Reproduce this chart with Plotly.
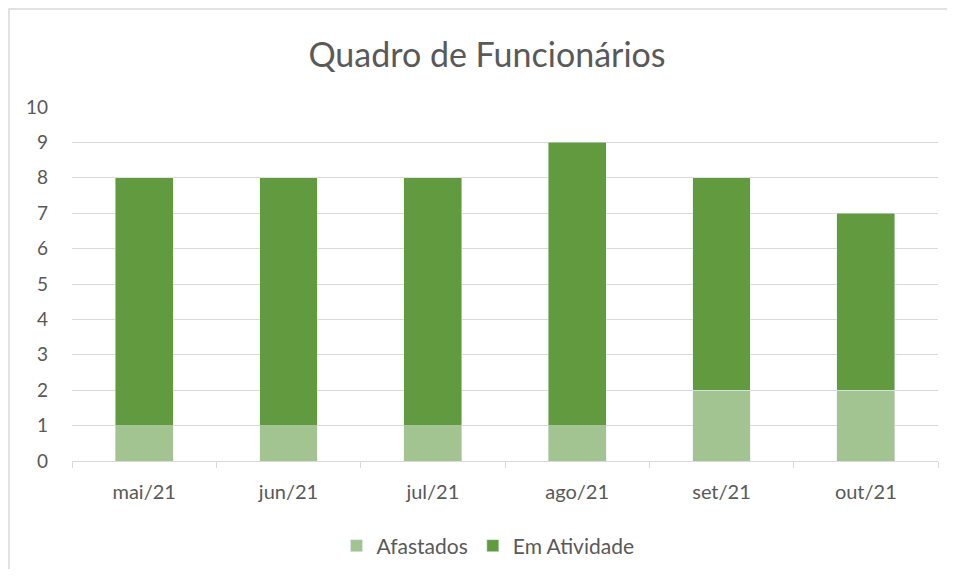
import plotly.graph_objects as go

categories = ["mai/21", "jun/21", "jul/21", "ago/21", "set/21", "out/21"]
afastados = [1, 1, 1, 1, 2, 2]
em_atividade = [7, 7, 7, 8, 6, 5]
y_ticks = [0, 1, 2, 3, 4, 5, 6, 7, 8, 9, 10]

# page body has an 8px margin, so the figure starts at (8, 8)
W, H = 947, 561
L, R, T, B = 64, 17, 99, 108
pw, ph = W - L - R, H - T - B

font_fam = "Lato, 'Open Sans', sans-serif"
txt = "#595959"
grid = "#D9D9D9"

fig = go.Figure()
fig.add_trace(go.Bar(name="Afastados", x=categories, y=afastados, marker_color="#A1C490"))
fig.add_trace(go.Bar(name="Em Atividade", x=categories, y=em_atividade, marker_color="#629A3F"))

fig.update_layout(
    width=W, height=H, autosize=False,
    barmode="stack", bargap=0.6,
    margin=dict(l=L, r=R, t=T, b=B, autoexpand=False),
    paper_bgcolor="white", plot_bgcolor="white",
    font=dict(family=font_fam, size=20, color=txt),
    title=dict(text="Quadro de Funcionários", x=(487 - 8) / W, xanchor="center",
               y=1 - 47 / H, yanchor="middle",
               font=dict(size=34, color=txt, family=font_fam)),
    legend=dict(orientation="h", xref="container", x=(488 - 8) / W, xanchor="center",
                yref="container", y=(H - 538) / H, yanchor="middle",
                font=dict(size=21, color=txt), traceorder="normal"),
    showlegend=True,
)
fig.update_yaxes(range=[0, 10], tickvals=y_ticks, showgrid=True, gridcolor=grid,
                 gridwidth=1, zeroline=False, showline=False, ticks="",
                 tickfont=dict(size=19, color=txt), ticklabelstandoff=23)
fig.update_xaxes(showline=True, linecolor=grid, linewidth=1, ticks="outside",
                 tickson="boundaries", ticklen=6, tickcolor=grid,
                 tickfont=dict(size=20, color=txt), showgrid=False,
                 ticklabelstandoff=13)

# chart area border (left and top visible)
fig.add_shape(type="rect", xref="paper", yref="paper",
              x0=(1 - L) / pw, x1=1.5, y0=-1, y1=(H - B - 1) / ph,
              line=dict(color=grid, width=1.5), fillcolor="rgba(0,0,0,0)", layer="below")

fig.write_html("out.html")
